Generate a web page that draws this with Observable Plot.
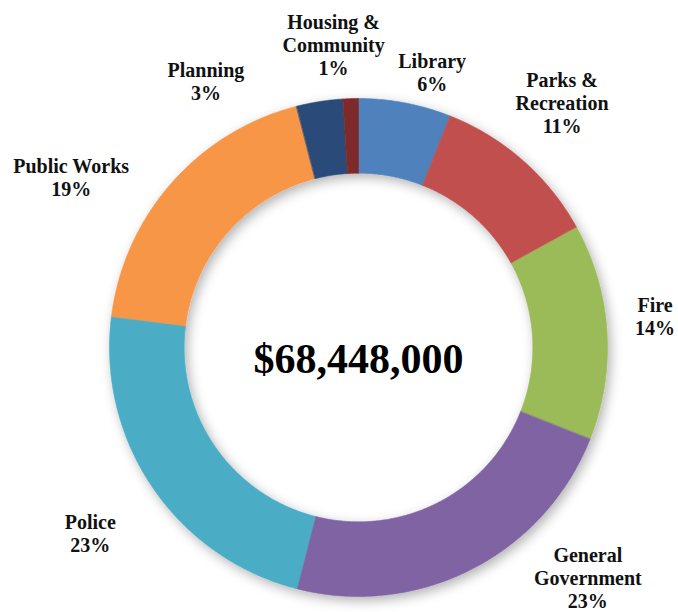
<!DOCTYPE html>
<html>
<head>
<meta charset="utf-8">
<script src="https://cdn.jsdelivr.net/npm/d3@7"></script>
<script src="https://cdn.jsdelivr.net/npm/@observablehq/plot@0.6"></script>
<style>
  html, body { margin: 0; padding: 0; background: #fff; }
  #chart svg { display: block; }
</style>
</head>
<body>
<div id="chart"></div>
<script>
// ---- data ----
const categories = ["Library", "Parks & Recreation", "Fire", "General Government", "Police", "Public Works", "Planning", "Housing & Community"];
const shares = [6, 11, 14, 23, 23, 19, 3, 1];
const labelNames = ["Library", "Parks &\nRecreation", "Fire", "General\nGovernment", "Police", "Public Works", "Planning", "Housing &\nCommunity"];
const colors = ["#4F81BD", "#C0504D", "#9BBB59", "#8064A2", "#4BACC6", "#F79646", "#2A4C7A", "#7E2B2A"];
const totalLabel = "$68,448,000";
// label placement in polar terms: angle (deg clockwise from top) and radius relative to outer ring
const labelAngle = [15, 39.7, 83.9, 135.1, 235.3, 300.7, 330.2, 355.3];
const labelRadius = [1.143, 1.28, 1.198, 1.305, 1.31, 1.342, 1.233, 1.22];

// ---- layout ----
const W = 678, H = 612;
const cx = 358, cy = 347, R = 249, innerRatio = 0.7;
const serif = "'Liberation Serif', 'Times New Roman', serif";

// ---- build ring polygons from cumulative shares ----
const total = d3.sum(shares);
const ring = [];
let acc = 0;
categories.forEach((c, i) => {
  const a0 = acc / total * 2 * Math.PI;
  acc += shares[i];
  const a1 = acc / total * 2 * Math.PI;
  const n = Math.max(2, Math.ceil((a1 - a0) / (Math.PI / 360)));
  for (let k = 0; k <= n; k++) {
    const a = a0 + (a1 - a0) * k / n;
    ring.push({cat: c, x: Math.sin(a), y: Math.cos(a)});
  }
  for (let k = n; k >= 0; k--) {
    const a = a0 + (a1 - a0) * k / n;
    ring.push({cat: c, x: innerRatio * Math.sin(a), y: innerRatio * Math.cos(a)});
  }
});

const labels = categories.map((c, i) => {
  const a = labelAngle[i] * Math.PI / 180;
  return {cat: c, x: labelRadius[i] * Math.sin(a), y: labelRadius[i] * Math.cos(a), text: labelNames[i] + "\n" + shares[i] + "%"};
});

const chart = Plot.plot({
  width: W,
  height: H,
  margin: 0,
  style: {background: "#fff", overflow: "visible"},
  x: {domain: [-cx / R, (W - cx) / R], axis: null},
  y: {domain: [-(H - cy) / R, cy / R], axis: null},
  color: {domain: categories, range: colors},
  marks: [
    Plot.line(ring, {x: "x", y: "y", z: "cat", fill: "cat", stroke: "cat", strokeWidth: 0.6, curve: "linear-closed"}),
    Plot.text(labels, {x: "x", y: "y", text: "text", fontFamily: serif, fontWeight: "bold", fontSize: 20, lineHeight: 1.15, fill: "#111", textAnchor: "middle", lineAnchor: "middle"}),
    Plot.text([totalLabel], {x: 0, y: 0, dy: 12, text: d => d, fontFamily: serif, fontWeight: "bold", fontSize: 42, fill: "#000", textAnchor: "middle", lineAnchor: "middle"})
  ]
});

// soft drop shadow for the ring
const svg = d3.select(chart);
const defs = svg.insert("defs", ":first-child");
const f = defs.append("filter").attr("id", "ringShadow").attr("x", "-20%").attr("y", "-20%").attr("width", "140%").attr("height", "140%");
f.append("feDropShadow").attr("dx", 3).attr("dy", 4).attr("stdDeviation", 6).attr("flood-color", "#000").attr("flood-opacity", 0.3);
svg.select("g[aria-label='line']").attr("filter", "url(#ringShadow)");

document.getElementById("chart").appendChild(chart);
</script>
</body>
</html>
